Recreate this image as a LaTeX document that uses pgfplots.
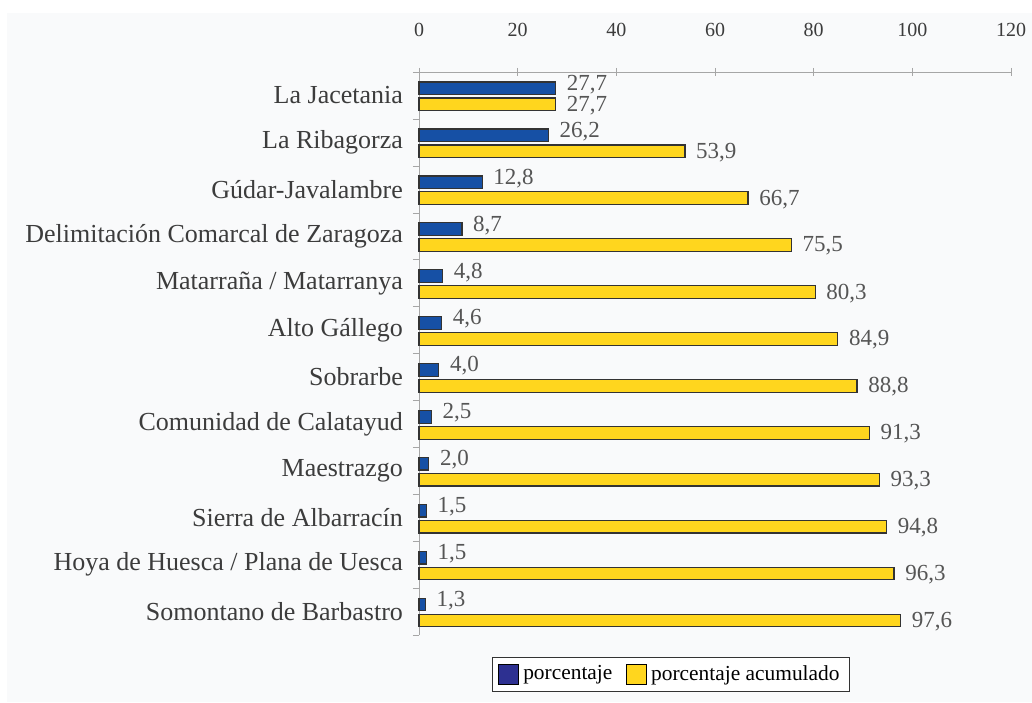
\documentclass[border=0pt]{standalone}
\usepackage{fontspec}
\setmainfont{Liberation Serif}
\usepackage{pgfplots}
\pgfplotsset{compat=1.18}
\definecolor{barblue}{RGB}{22,80,165}
\definecolor{legblue}{RGB}{45,48,145}
\definecolor{baryellow}{RGB}{255,214,30}
\definecolor{bg}{RGB}{249,250,251}
\definecolor{txt}{RGB}{60,60,60}
\definecolor{lbl}{RGB}{85,85,85}
\begin{document}
\begin{tikzpicture}
\fill[white] (0,0) rectangle (516pt,351pt);
\fill[bg] (3.5pt,0) rectangle (516pt,344.5pt);
\useasboundingbox (0,0) rectangle (516pt,351pt);
\begin{axis}[
  at={(209.5pt,33.5pt)}, anchor=south west,
  scale only axis, width=296pt, height=281.5pt,
  xmin=0, xmax=120, ymin=-0.5, ymax=11.5,
  axis x line*=top, axis y line*=left,
  axis line style={draw=gray!70, -},
  xtick={0,20,...,120},
  xtick align=center,
  major tick length=4pt,
  x tick style={draw=gray!70},
  xticklabel style={font=\fontsize{10}{12}\selectfont, text=txt, yshift=12pt},
  /pgf/number format/assume math mode=true,
  ytick={0,...,11},
  yticklabels={Somontano de Barbastro, Hoya de Huesca / Plana de Uesca, Sierra de Albarracín, Maestrazgo, Comunidad de Calatayud, Sobrarbe, Alto Gállego, Matarraña / Matarranya, Delimitación Comarcal de Zaragoza, Gúdar-Javalambre, La Ribagorza, La Jacetania},
  y tick style={draw=none},
  minor ytick={-0.5,0.5,...,11.5},
  minor y tick style={draw=gray!70},
  minor tick length=3pt,
  ytick align=outside,
  yticklabel style={font=\fontsize{13}{15}\selectfont, text=txt, xshift=-0.5pt},
  clip=false,
  legend style={at={(0.4257,-0.039)}, anchor=north, legend columns=2, draw=black!80, fill=white,
    font=\fontsize{10.7}{12}\selectfont, inner ysep=2pt,
    /tikz/every even column/.append style={column sep=5pt}},
  legend image code/.code={\draw[#1] (0pt,-5pt) rectangle (10pt,5pt);},
]
\addlegendimage{fill=legblue, draw=black}
\addlegendentry{porcentaje}
\addlegendimage{fill=baryellow, draw=black}
\addlegendentry{porcentaje acumulado}
\addplot[forget plot, xbar, bar width=0.27, bar shift=0.15, fill=barblue, draw=black!80, line width=0.6pt,
  nodes near coords={\pgfmathprintnumber[fixed,fixed zerofill,precision=1,use comma,assume math mode=true]{\pgfplotspointmeta}},
  nodes near coords style={anchor=west, xshift=2pt, yshift=5.5pt, inner ysep=0pt, text=lbl, font=\fontsize{11.5}{13}\selectfont}]
  coordinates {(27.7,11) (26.2,10) (12.8,9) (8.7,8) (4.8,7) (4.6,6) (4.0,5) (2.5,4) (2.0,3) (1.5,2) (1.5,1) (1.3,0)};
\addplot[forget plot, xbar, bar width=0.27, bar shift=-0.19, fill=baryellow, draw=black!80, line width=0.6pt,
  nodes near coords={\pgfmathprintnumber[fixed,fixed zerofill,precision=1,use comma,assume math mode=true]{\pgfplotspointmeta}},
  nodes near coords style={anchor=west, xshift=2pt, yshift=-5pt, inner ysep=0pt, text=lbl, font=\fontsize{11.5}{13}\selectfont}]
  coordinates {(27.7,11) (53.9,10) (66.7,9) (75.5,8) (80.3,7) (84.9,6) (88.8,5) (91.3,4) (93.3,3) (94.8,2) (96.3,1) (97.6,0)};
\end{axis}
\end{tikzpicture}
\end{document}
